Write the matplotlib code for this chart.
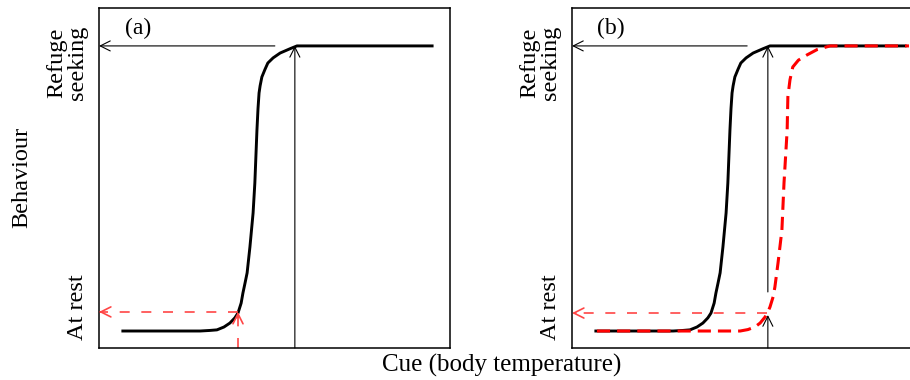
import matplotlib
matplotlib.use("Agg")
import matplotlib.pyplot as plt

plt.rcParams['font.family'] = ['Liberation Serif', 'DejaVu Serif']

# response curves (cue 0-100, behaviour 0 = rest, 1 = refuge)
cue_black = [6.8, 28.8, 31.6, 33.6, 35.6, 37.3, 38.7, 39.6, 40.5, 41.0, 41.6, 42.2, 43.0, 43.9, 44.4,
             45.0, 45.3, 45.6, 45.9, 46.4, 47.3, 48.1, 49.6, 51.6, 54.4, 56.4, 94.9]
beh_black = [0.0, 0.0, 0.002, 0.004, 0.014, 0.028, 0.046, 0.063, 0.098, 0.133, 0.168, 0.204, 0.295, 0.414, 0.519,
             0.705, 0.780, 0.835, 0.860, 0.891, 0.918, 0.940, 0.958, 0.975, 0.990, 1.0, 1.0]

cue_red = [7.1, 47.9, 50.1, 52.1, 53.6, 55.0, 55.8, 56.4, 57.3, 57.8, 58.7, 59.8, 60.4, 61.3, 61.5,
           62.1, 62.9, 64.5, 66.9, 69.8, 73.5, 96.0]
beh_red = [0.0, 0.0, 0.005, 0.014, 0.028, 0.049, 0.067, 0.084, 0.120, 0.154, 0.239, 0.354, 0.519, 0.705, 0.821,
           0.881, 0.926, 0.950, 0.968, 0.987, 1.0, 1.0]

# arrow positions
refuge_level = 1.0
a_refuge_from = 50.1
a_threshold = 55.8
a_rest_cue = 39.6
a_rest_level = 0.067
b_refuge_from = 49.9
b_threshold = 55.8
b_upper_from = 0.137
b_lower_to = 0.056
b_rest_cue = 55.6
b_rest_level = 0.063

panel_labels = ['(a)', '(b)']
tick_labels = ['At rest', 'Refuge\nseeking']
tick_pos = [0.084, 0.94]

fig = plt.figure(figsize=(9.1, 3.8), dpi=100)
ax_a = fig.add_axes([99 / 910, 32 / 380, 351 / 910, 340 / 380])
ax_b = fig.add_axes([572 / 910, 32 / 380, 351 / 910, 340 / 380])

red_arrow = '#ff4545'
ymin = -0.0596


def arrow(ax, x0, y0, x1, y1, color='black', lw=0.8):
    ax.annotate('', xy=(x1, y1), xytext=(x0, y0),
                arrowprops=dict(arrowstyle='->', color=color, lw=lw,
                                mutation_scale=18, shrinkA=0, shrinkB=0),
                annotation_clip=False)


def dashed(ax, x0, y0, x1, y1):
    ax.plot([x0, x1], [y0, y1], color=red_arrow, lw=1.2, dashes=(6.0, 7.0), clip_on=False)


def dashed_arrow(ax, x0, y0, x1, y1):
    dashed(ax, x0, y0, x1, y1)
    # solid head
    dx = (x1 - x0) * 0.02
    dy = (y1 - y0) * 0.02
    arrow(ax, x1 - dx, y1 - dy, x1, y1, color=red_arrow, lw=1.2)


for ax, lab in zip([ax_a, ax_b], panel_labels):
    ax.set_xlim(0, 100)
    ax.set_ylim(ymin, 1.133)
    ax.set_xticks([])
    ax.set_yticks([])
    for s in ax.spines.values():
        s.set_linewidth(1.1)
    ax.text(11.1, 1.063, lab, ha='center', va='center', fontsize=17)
    for t, p in zip(tick_labels, tick_pos):
        ax.text(-0.031, p, t, transform=ax.get_yaxis_transform(), rotation=90,
                ha='right', va='center', fontsize=17.5, multialignment='center',
                linespacing=1.0)

# panel a
ax_a.plot(cue_black, beh_black, color='black', lw=2.1, solid_joinstyle='round')
arrow(ax_a, a_refuge_from, refuge_level, 0, refuge_level)
arrow(ax_a, a_threshold, ymin, a_threshold, refuge_level)
dashed(ax_a, a_rest_cue, ymin, a_rest_cue, a_rest_level - 0.01)
dashed_arrow(ax_a, a_rest_cue, a_rest_level, 0, a_rest_level)
arrow(ax_a, a_rest_cue, a_rest_level - 0.02, a_rest_cue, a_rest_level, color=red_arrow, lw=1.2)

# panel b
ax_b.plot(cue_black, beh_black, color='black', lw=2.1, solid_joinstyle='round')
ax_b.plot(cue_red, beh_red, color='#ff0000', lw=2.2, dashes=(4.3, 2.3))
arrow(ax_b, b_refuge_from, refuge_level, 0, refuge_level)
arrow(ax_b, b_threshold, b_upper_from, b_threshold, refuge_level)
arrow(ax_b, b_threshold, ymin, b_threshold, b_lower_to)
dashed_arrow(ax_b, b_rest_cue, b_rest_level, 0, b_rest_level)

fig.text(0.024, 0.534, 'Behaviour', rotation=90, ha='center', va='center', fontsize=17.5)
fig.text(0.551, 0.037, 'Cue (body temperature)', ha='center', va='center', fontsize=18)

fig.savefig('out.png', dpi=100)
